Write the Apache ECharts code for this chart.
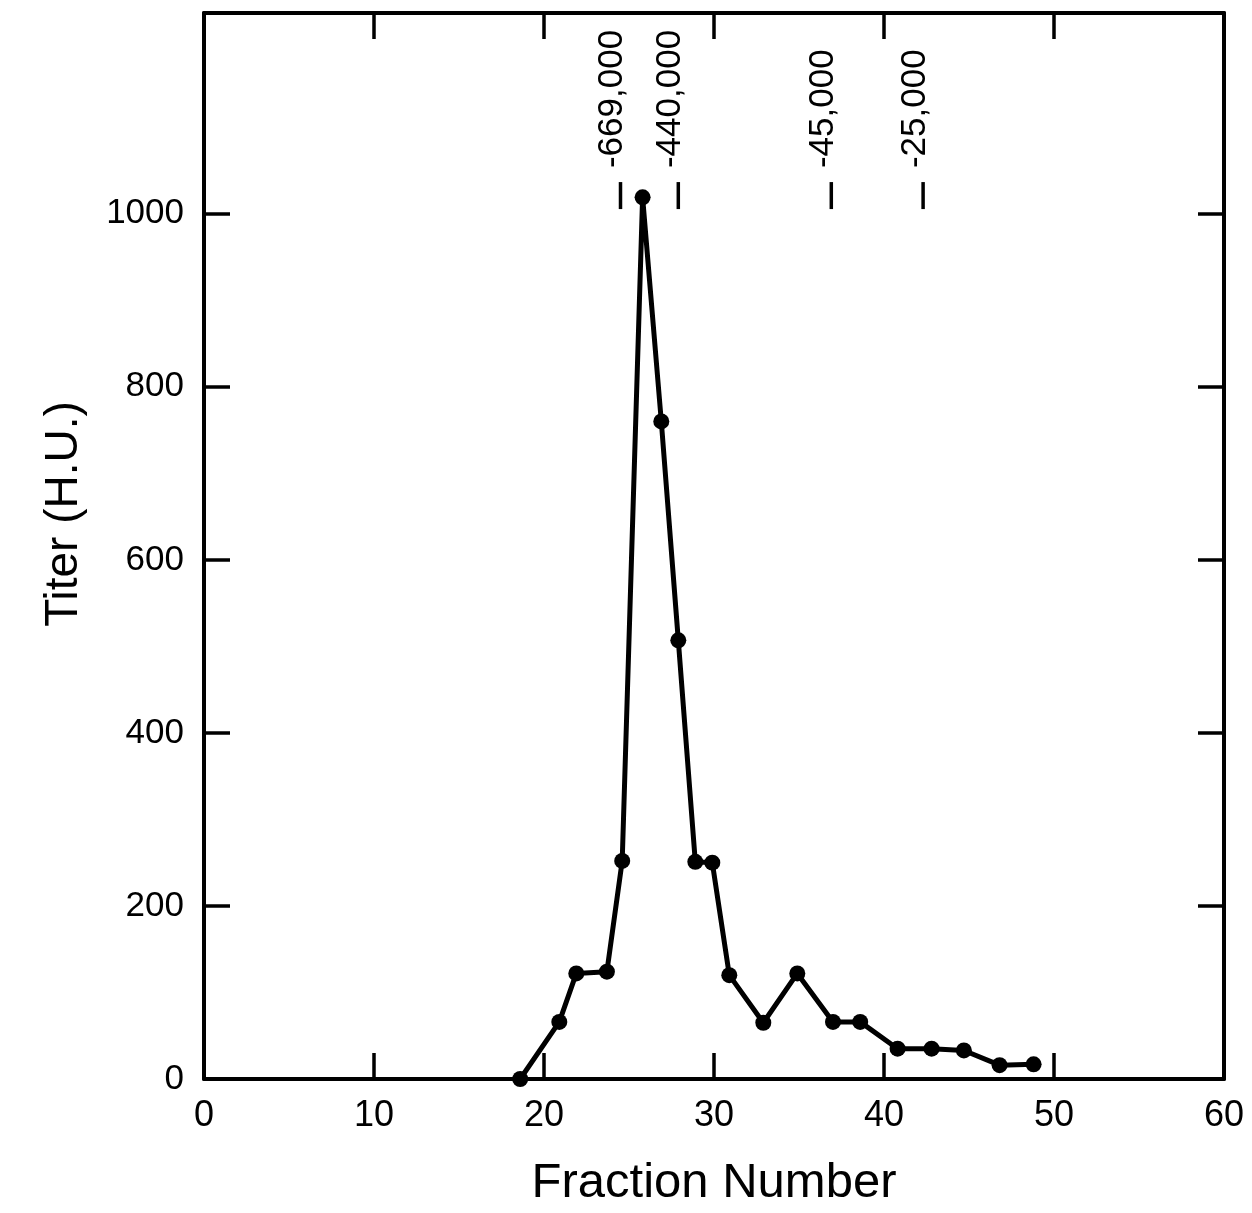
<!DOCTYPE html>
<html><head><meta charset="utf-8">
<script src="https://cdn.jsdelivr.net/npm/echarts@6/dist/echarts.min.js"></script>
<style>html,body{margin:0;padding:0;background:#fff}#c{width:1252px;height:1213px}</style>
</head><body><div id="c"></div>
<script>
const fractions = [18.6,20.9,21.9,23.7,24.6,25.8,26.9,27.9,28.9,29.9,30.9,32.9,34.9,37.0,38.6,40.8,42.8,44.7,46.8,48.8];
const titers = [0,66,122,124,252,1019,760,507,251,250,120,65,122,66,66,35,35,33,16,17];
const markerFractions = [24.5,27.9,36.9,42.3];
const markerLabels = ['-669,000','-440,000','-45,000','-25,000'];
const markerLevel = 1021;
const yTicks = [0,200,400,600,800,1000];

const FONT = '"Liberation Sans", Arial, Helvetica, sans-serif';
const chart = echarts.init(document.getElementById('c'), null, {renderer:'canvas'});
const axisLine = {show:true, onZero:false, lineStyle:{color:'#000', width:4}};
const tick = {show:true, inside:true, length:26, lineStyle:{color:'#000', width:3.5}};
chart.setOption({
  animation:false,
  backgroundColor:'#fff',
  grid:{left:204, right:28, top:13, bottom:130, containLabel:false},
  xAxis:[{
    type:'value', min:0, max:60, interval:10, position:'bottom',
    name:'Fraction Number', nameLocation:'middle', nameGap:80,
    nameTextStyle:{fontFamily:FONT, fontSize:49, color:'#000'},
    axisLine, axisTick:tick, splitLine:{show:false},
    axisLabel:{fontFamily:FONT, fontSize:36, color:'#000', margin:19}
  },{
    type:'value', min:0, max:60, interval:10, position:'top',
    axisLine, axisTick:tick, splitLine:{show:false}, axisLabel:{show:false}
  }],
  yAxis:[{
    type:'value', min:0, max:1232, position:'left',
    name:'Titer (H.U.)', nameLocation:'middle', nameGap:117, nameRotate:90,
    nameTextStyle:{fontFamily:FONT, fontSize:46, color:'#000', padding:[0,0,0,64]},
    axisLine, axisTick:Object.assign({customValues:yTicks}, tick), splitLine:{show:false},
    axisLabel:{customValues:yTicks, formatter:v=>String(v), fontFamily:FONT, fontSize:35, color:'#000', margin:20}
  },{
    type:'value', min:0, max:1232, position:'right',
    axisLine, axisTick:Object.assign({customValues:yTicks}, tick), splitLine:{show:false},
    axisLabel:{show:false}
  }],
  series:[{
    type:'line', xAxisIndex:0, yAxisIndex:0,
    data:fractions.map((f,i)=>[f,titers[i]]),
    smooth:false,
    symbol:'circle', symbolSize:16,
    lineStyle:{color:'#000', width:5, join:'round'},
    itemStyle:{color:'#000', opacity:1},
    z:5
  },{
    type:'scatter', xAxisIndex:0, yAxisIndex:0,
    data:markerFractions.map((f,i)=>({value:[f,markerLevel], name:markerLabels[i]})),
    symbol:'rect', symbolSize:[3.5,27],
    itemStyle:{color:'#000', opacity:1},
    label:{show:true, formatter:p=>p.name, position:'top', distance:14, rotate:90,
      align:'left', verticalAlign:'middle', offset:[0,-8],
      fontFamily:FONT, fontSize:35, color:'#000', opacity:1}
  }]
});
</script></body></html>
